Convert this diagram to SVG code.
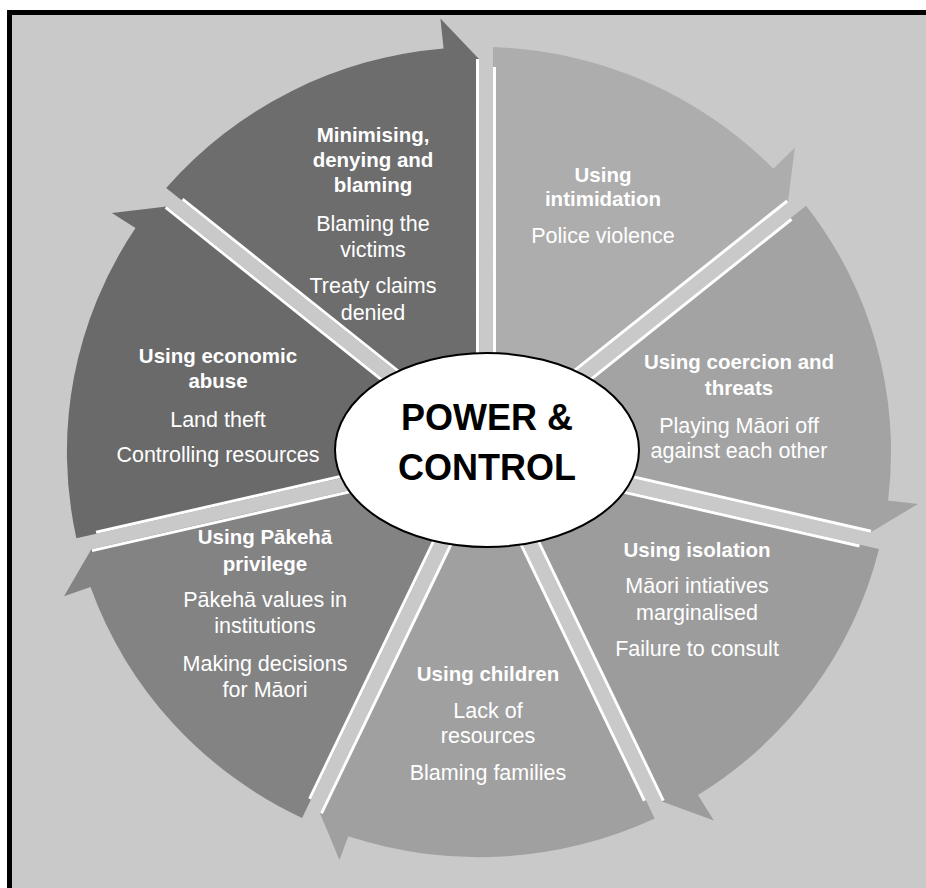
<svg xmlns="http://www.w3.org/2000/svg" width="926" height="888" viewBox="0 0 926 888">
<style>
.w{stroke:#fff;stroke-width:3;fill:none}
.h{font-family:"Liberation Sans",Arial,sans-serif;font-weight:bold;font-size:20.5px;fill:#fff;text-anchor:middle}
.b{font-family:"Liberation Sans",Arial,sans-serif;font-size:21.5px;fill:#fff;text-anchor:middle}
.c{font-family:"Liberation Sans",Arial,sans-serif;font-weight:bold;font-size:36px;fill:#000;text-anchor:middle}
</style>
<rect width="926" height="888" fill="#fff"/>
<rect x="9.5" y="12.5" width="930" height="890" fill="#c9c9c9" stroke="#000" stroke-width="5"/>

<g id="seg-minimising">
<path d="M166.2,187.9 A412,405 0 0 1 443.6,48.4 L440.4,18.4 L479,59 L479.1,437.6 Z" fill="#6d6d6d"/>
<line class="w" x1="8.5" y1="-395" x2="8.5" y2="-60" transform="translate(486 452) rotate(308.57)"/>
<line class="w" x1="-8.5" y1="-393" x2="-8.5" y2="-60" transform="translate(486 452) rotate(0)"/>
<text class="h" x="373" y="142">Minimising,</text>
<text class="h" x="373" y="167">denying and</text>
<text class="h" x="373" y="192">blaming</text>
<text class="b" x="373" y="231">Blaming the</text>
<text class="b" x="373" y="257">victims</text>
<text class="b" x="373" y="293">Treaty claims</text>
<text class="b" x="373" y="320">denied</text>
</g>

<g id="seg-intimidation">
<path d="M493,47 A412,405 0 0 1 773.4,168.7 L794.8,147.7 L787.9,202.2 L492.9,437.6 Z" fill="#adadad"/>
<line class="w" x1="8.5" y1="-385" x2="8.5" y2="-60" transform="translate(486 452) rotate(0)"/>
<line class="w" x1="-8.5" y1="-392" x2="-8.5" y2="-60" transform="translate(486 452) rotate(51.43)"/>
<text class="h" x="603" y="182">Using</text>
<text class="h" x="603" y="206">intimidation</text>
<text class="b" x="603" y="243">Police violence</text>
</g>

<g id="seg-coercion">
<path d="M806.1,205.7 A412,405 0 0 1 888.1,500.4 L917.9,504 L870.5,532.6 L501.6,448.4 Z" fill="#a3a3a3"/>
<line class="w" x1="8.5" y1="-384" x2="8.5" y2="-60" transform="translate(486 452) rotate(51.43)"/>
<line class="w" x1="-8.5" y1="-393" x2="-8.5" y2="-60" transform="translate(486 452) rotate(102.86)"/>
<text class="h" x="739" y="369">Using coercion and</text>
<text class="h" x="739" y="395">threats</text>
<text class="b" x="739" y="433">Playing Māori off</text>
<text class="b" x="739" y="458">against each other</text>
</g>

<g id="seg-isolation">
<path d="M879,548.9 A412,405 0 0 1 698,795.1 L713.8,820.6 L662.1,801.6 L498.5,462 Z" fill="#9c9c9c"/>
<line class="w" x1="8.5" y1="-385" x2="8.5" y2="-60" transform="translate(486 452) rotate(102.86)"/>
<line class="w" x1="-8.5" y1="-391" x2="-8.5" y2="-60" transform="translate(486 452) rotate(154.29)"/>
<text class="h" x="697" y="557">Using isolation</text>
<text class="b" x="697" y="593">Māori intiatives</text>
<text class="b" x="697" y="620">marginalised</text>
<text class="b" x="697" y="656">Failure to consult</text>
</g>

<g id="seg-children">
<path d="M654.7,818.4 A412,405 0 0 1 348.3,836.3 L339.5,860 L319.9,813.1 L486,468 Z" fill="#a0a0a0"/>
<line class="w" x1="8.5" y1="-383" x2="8.5" y2="-60" transform="translate(486 452) rotate(154.29)"/>
<line class="w" x1="-8.5" y1="-397" x2="-8.5" y2="-60" transform="translate(486 452) rotate(205.71)"/>
<text class="h" x="488" y="681">Using children</text>
<text class="b" x="488" y="718">Lack of</text>
<text class="b" x="488" y="743">resources</text>
<text class="b" x="488" y="780">Blaming families</text>
</g>

<g id="seg-pakeha">
<path d="M302.1,817.9 A412,405 0 0 1 90.5,587.1 L64,596.2 L91.3,549.2 L473.5,462 Z" fill="#838383"/>
<line class="w" x1="8.5" y1="-389" x2="8.5" y2="-60" transform="translate(486 452) rotate(205.71)"/>
<line class="w" x1="-8.5" y1="-406" x2="-8.5" y2="-60" transform="translate(486 452) rotate(257.14)"/>
<text class="h" x="265" y="544">Using Pākehā</text>
<text class="h" x="265" y="571">privilege</text>
<text class="b" x="265" y="607">Pākehā values in</text>
<text class="b" x="265" y="633">institutions</text>
<text class="b" x="265" y="671">Making decisions</text>
<text class="b" x="265" y="697">for Māori</text>
</g>

<g id="seg-economic">
<path d="M76.4,538.3 A412,405 0 0 1 135.5,228.1 L111.9,213 L166.8,206.4 L470.4,448.4 Z" fill="#6a6a6a"/>
<line class="w" x1="8.5" y1="-398" x2="8.5" y2="-60" transform="translate(486 452) rotate(257.14)"/>
<line class="w" x1="-8.5" y1="-403" x2="-8.5" y2="-60" transform="translate(486 452) rotate(308.57)"/>
<text class="h" x="218" y="363">Using economic</text>
<text class="h" x="218" y="388">abuse</text>
<text class="b" x="218" y="427">Land theft</text>
<text class="b" x="218" y="462">Controlling resources</text>
</g>

<g id="connectors"></g>

<g id="center">
<ellipse cx="487" cy="450" rx="152" ry="97" fill="#fff" stroke="#000" stroke-width="2"/>
<text class="c" x="487" y="430">POWER &amp;</text>
<text class="c" x="487" y="480">CONTROL</text>
</g>
</svg>
